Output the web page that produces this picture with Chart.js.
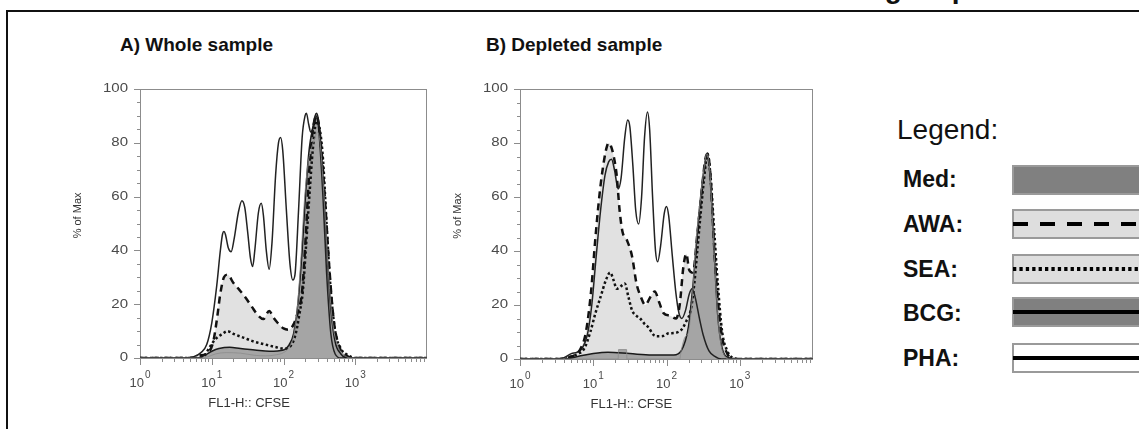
<!DOCTYPE html>
<html>
<head>
<meta charset="utf-8">
<script src="https://cdn.jsdelivr.net/npm/chart.js@4.4.1/dist/chart.umd.min.js"></script>
<style>
  html, body { margin: 0; padding: 0; background: #fff; }
  body { width: 1139px; height: 429px; position: relative; overflow: hidden; font-family: "Liberation Sans", Arial, sans-serif; color: #111; }
  .abs { position: absolute; white-space: nowrap; }
  canvas { position: absolute; }
  .lbl { font: bold 23px/23px "Liberation Sans", Arial, sans-serif; left: 903px; }
</style>
</head>
<body>
<div class="abs" style="left:737px;top:-25px;font:bold 28px/28px 'Liberation Sans',Arial,sans-serif;">Proliferating responses</div>
<div class="abs" style="left:6px;top:10px;width:1150px;height:440px;border-top:2px solid #111;border-left:2px solid #111;"></div>

<div class="abs" style="left:120px;top:35px;font:bold 19px/19px 'Liberation Sans',Arial,sans-serif;">A) Whole sample</div>
<div class="abs" style="left:486px;top:35px;font:bold 19px/19px 'Liberation Sans',Arial,sans-serif;">B) Depleted sample</div>

<canvas id="histA" width="380" height="350" style="left:60px;top:70px;"></canvas>
<canvas id="histB" width="380" height="350" style="left:440px;top:70px;"></canvas>

<div class="abs" style="left:897px;top:116px;font:28px/28px 'Liberation Sans',Arial,sans-serif;">Legend:</div>
<div class="abs lbl" style="top:168px;">Med:</div>
<div class="abs lbl" style="top:213px;">AWA:</div>
<div class="abs lbl" style="top:258px;">SEA:</div>
<div class="abs lbl" style="top:302px;">BCG:</div>
<div class="abs lbl" style="top:347px;">PHA:</div>
<canvas id="legendSwatches" width="139" height="240" style="left:1000px;top:150px;"></canvas>

<script>
// [log10 CFSE, % of Max]  -- A) whole sample
const medA = [[0,0],[0.85,0],[0.95,0.5],[1.05,1.5],[1.2,2],[1.4,1.8],[1.6,1],[1.75,0.8],[1.9,1.2],[2.0,2],[2.08,4],[2.14,8],[2.19,18],[2.24,36],[2.29,58],[2.34,72],[2.39,78],[2.44,82],[2.47,84],[2.51,80],[2.56,62],[2.62,34],[2.68,14],[2.75,5],[2.85,1],[2.95,0],[4,0]];
const bcgA = [[0,0],[0.8,0],[0.9,1],[1.0,2.5],[1.1,3.5],[1.25,4],[1.4,3.5],[1.6,3],[1.8,2.5],[2.0,3],[2.08,5],[2.14,9],[2.2,20],[2.26,40],[2.31,62],[2.36,78],[2.41,86],[2.44,90],[2.46,91],[2.49,88],[2.54,72],[2.6,42],[2.66,18],[2.72,6],[2.8,1.5],[2.9,0],[4,0]];
const awaA = [[0,0],[0.75,0],[0.85,1],[0.95,2],[1.02,6],[1.07,14],[1.12,24],[1.17,30],[1.22,31],[1.3,28],[1.38,25.5],[1.47,22.5],[1.56,19],[1.64,16],[1.72,14.5],[1.8,17.5],[1.86,15],[1.92,13],[2.0,11],[2.07,10.5],[2.14,12.5],[2.2,17],[2.26,25],[2.31,45],[2.36,70],[2.41,85],[2.46,90],[2.52,80],[2.58,58],[2.64,33],[2.7,14],[2.78,4],[2.88,0.8],[3.0,0],[4,0]];
const seaA = [[0,0],[0.8,0],[0.9,1],[0.97,4],[1.05,7],[1.15,9],[1.22,10],[1.3,9],[1.45,7.5],[1.6,6],[1.75,5],[1.9,4],[2.0,3.5],[2.1,4.5],[2.17,9],[2.22,16],[2.27,25],[2.31,40],[2.36,60],[2.41,78],[2.46,88],[2.5,86],[2.55,74],[2.6,50],[2.65,28],[2.72,10],[2.8,3.5],[2.9,1],[3.0,0],[4,0]];
const phaA = [[0,0],[0.6,0],[0.75,0.5],[0.85,2],[0.93,5],[1.0,13],[1.07,27],[1.12,40],[1.15,46],[1.17,47],[1.19,46],[1.23,41],[1.27,39.5],[1.31,44],[1.37,54],[1.42,58.5],[1.46,56],[1.5,47],[1.54,37],[1.57,34],[1.6,40],[1.65,54],[1.69,57.5],[1.72,53],[1.76,40],[1.8,33],[1.84,43],[1.89,68],[1.93,80],[1.96,82],[1.99,77],[2.04,55],[2.09,35],[2.13,29],[2.16,31],[2.21,55],[2.26,82],[2.3,90],[2.32,91],[2.35,87],[2.38,84],[2.42,86],[2.46,90],[2.5,82],[2.55,60],[2.6,32],[2.66,9],[2.72,1.5],[2.8,0],[4,0]];

// B) depleted sample
const medB = [[0,0],[1.34,0],[1.345,3.5],[1.455,3.5],[1.46,0],[2.18,0],[2.2,3],[2.25,8],[2.3,10],[2.35,22],[2.4,42],[2.45,56],[2.5,68],[2.55,76],[2.59,70],[2.64,45],[2.69,20],[2.74,6],[2.8,1],[2.85,0],[4,0]];
const bcgB = [[0,0],[0.6,0],[0.8,1],[1.0,2],[1.2,2.5],[1.5,2],[1.8,1.5],[2.1,1.5],[2.2,3],[2.3,12],[2.37,30],[2.43,50],[2.5,68],[2.54,75],[2.56,76],[2.6,66],[2.65,40],[2.7,16],[2.76,4],[2.85,0.5],[2.95,0],[4,0]];
const awaB = [[0,0],[0.55,0],[0.65,0.5],[0.75,1.5],[0.83,4],[0.9,10],[0.97,25],[1.03,45],[1.09,62],[1.15,74],[1.19,79],[1.21,80],[1.24,79],[1.28,75],[1.32,68],[1.36,55],[1.4,47],[1.46,44],[1.53,38],[1.59,28],[1.65,23],[1.71,20],[1.78,23],[1.84,25],[1.9,21],[1.96,17],[2.05,16],[2.13,15],[2.18,20],[2.23,34],[2.27,39],[2.31,33],[2.36,32],[2.42,46],[2.48,62],[2.53,74],[2.56,76],[2.6,68],[2.65,42],[2.7,22],[2.76,8],[2.83,2],[2.9,0],[4,0]];
const seaB = [[0,0],[0.6,0],[0.7,1],[0.8,2],[0.88,4],[0.96,10],[1.03,17],[1.1,23],[1.17,29],[1.23,32],[1.28,29],[1.32,26],[1.38,27],[1.43,28],[1.48,23],[1.53,18],[1.59,16],[1.64,15],[1.7,13],[1.76,11.5],[1.82,9],[1.87,8.4],[1.95,8.5],[2.03,9.5],[2.1,9.6],[2.16,10],[2.21,11],[2.27,14],[2.33,18],[2.38,28],[2.42,40],[2.47,55],[2.51,66],[2.56,76],[2.6,68],[2.65,48],[2.7,28],[2.76,10],[2.83,3],[2.9,0.5],[3,0],[4,0]];
const phaB = [[0,0],[0.5,0],[0.6,0.5],[0.7,2],[0.78,2.5],[0.85,4],[0.92,9],[0.98,20],[1.04,38],[1.1,55],[1.16,68],[1.21,73],[1.25,74],[1.29,70],[1.34,63],[1.38,67],[1.43,82],[1.47,88.5],[1.5,86],[1.54,72],[1.58,55],[1.62,50],[1.66,60],[1.7,82],[1.74,91.5],[1.77,85],[1.81,60],[1.85,40],[1.88,36],[1.92,42],[1.97,54],[2.0,56.5],[2.03,53],[2.08,38],[2.13,24],[2.17,17],[2.21,15],[2.26,18],[2.31,24],[2.35,26],[2.39,23],[2.45,15],[2.5,9],[2.58,3],[2.66,1],[2.75,0],[4,0]];

const yTickLabels = [0, 20, 40, 60, 80, 100];
const xDecades = [0, 1, 2, 3];
const xTitle = 'FL1-H:: CFSE';
const yTitle = '% of Max';

const toPts = pairs => pairs.map(([e, v]) => ({ x: Math.pow(10, e), y: v }));

// box, ticks and labels in the FlowJo look
const flowAxes = {
  id: 'flowAxes',
  beforeDatasetsDraw(chart) {
    const { ctx, chartArea: a, scales: { x, y } } = chart;
    ctx.save();
    ctx.strokeStyle = '#8c8c8c';
    ctx.lineWidth = 1;
    ctx.strokeRect(a.left + 0.5, a.top + 0.5, a.right - a.left - 1, a.bottom - a.top);
    ctx.beginPath();
    for (let e = 0; e < 4; e++) {
      for (let k = 1; k <= 9; k++) {
        const px = Math.round(x.getPixelForValue(k * Math.pow(10, e))) + 0.5;
        ctx.moveTo(px, a.bottom);
        ctx.lineTo(px, a.bottom + (k === 1 ? 7 : 4));
      }
    }
    for (let v = 0; v <= 100; v += 5) {
      const py = Math.round(y.getPixelForValue(v)) + 0.5;
      ctx.moveTo(a.left, py);
      ctx.lineTo(a.left - (v % 20 === 0 ? 6 : 3), py);
    }
    ctx.stroke();
    ctx.restore();
  },
  afterDraw(chart) {
    const { ctx, chartArea: a, scales: { x, y } } = chart;
    ctx.save();
    ctx.fillStyle = '#4a4a4a';
    // y labels
    ctx.font = '12.5px "Liberation Sans", Arial, sans-serif';
    ctx.textAlign = 'right';
    ctx.textBaseline = 'middle';
    yTickLabels.forEach(v => {
      ctx.save();
      ctx.translate(a.left - 12, y.getPixelForValue(v));
      ctx.scale(1.2, 1);
      ctx.fillText(String(v), 0, 0);
      ctx.restore();
    });
    // x labels 10^n
    ctx.textAlign = 'left';
    ctx.textBaseline = 'alphabetic';
    xDecades.forEach(e => {
      const px = x.getPixelForValue(Math.pow(10, e));
      ctx.font = '13px "Liberation Sans", Arial, sans-serif';
      const w1 = ctx.measureText('10').width;
      ctx.font = '10px "Liberation Sans", Arial, sans-serif';
      const w2 = ctx.measureText(String(e)).width;
      const start = px - (w1 + w2 + 1) / 2;
      ctx.font = '13px "Liberation Sans", Arial, sans-serif';
      ctx.fillText('10', start, a.bottom + 29);
      ctx.font = '10px "Liberation Sans", Arial, sans-serif';
      ctx.fillText(String(e), start + w1 + 1, a.bottom + 20);
    });
    // axis titles
    ctx.fillStyle = '#333';
    ctx.font = '13px "Liberation Sans", Arial, sans-serif';
    ctx.textAlign = 'center';
    ctx.fillText(xTitle, a.left + 0.38 * (a.right - a.left), a.bottom + 49);
    ctx.save();
    ctx.translate(a.left - 62, a.top + 0.47 * (a.bottom - a.top));
    ctx.rotate(-Math.PI / 2);
    ctx.font = '11px "Liberation Sans", Arial, sans-serif';
    ctx.textBaseline = 'middle';
    ctx.fillText(yTitle, 0, 0);
    ctx.restore();
    ctx.restore();
  }
};

const DARK = '#a5a5a5';
const LIGHT = '#e1e1e1';

function makeHist(canvasId, s, padRight, xHeight) {
  const ctx = document.getElementById(canvasId).getContext('2d');
  return new Chart(ctx, {
    type: 'line',
    data: {
      datasets: [
        { label: 'Med', data: toPts(s.med), borderColor: '#8c8c8c', borderWidth: 0.8, backgroundColor: DARK, fill: 'origin' },
        { label: 'BCG', data: toPts(s.bcg), borderColor: '#1a1a1a', borderWidth: 1.5, backgroundColor: DARK, fill: 'origin' },
        { label: 'AWA', data: toPts(s.awa), borderColor: '#111', borderWidth: 2.5, borderDash: [7, 5], backgroundColor: LIGHT, fill: 'origin' },
        { label: 'SEA', data: toPts(s.sea), borderColor: '#111', borderWidth: 2.5, borderDash: [2.5, 2.5], backgroundColor: LIGHT, fill: 'origin' },
        { label: 'PHA', data: toPts(s.pha), borderColor: '#222', borderWidth: 1.5, fill: false }
      ]
    },
    options: {
      responsive: false,
      animation: false,
      devicePixelRatio: 1,
      layout: { padding: { left: 0, top: 19, right: padRight, bottom: 0 } },
      plugins: {
        legend: { display: false },
        tooltip: { enabled: false },
        filler: { drawTime: 'beforeDatasetsDraw' }
      },
      elements: {
        point: { radius: 0 },
        line: { cubicInterpolationMode: 'monotone' }
      },
      scales: {
        x: {
          type: 'logarithmic', min: 1, max: 10000,
          ticks: { display: false },
          grid: { display: false, drawTicks: false },
          border: { display: false },
          afterFit: sc => { sc.height = xHeight; }
        },
        y: {
          min: 0, max: 100,
          ticks: { display: false, stepSize: 5 },
          grid: { display: false, drawTicks: false },
          border: { display: false },
          afterFit: sc => { sc.width = 80; }
        }
      }
    },
    plugins: [flowAxes]
  });
}

makeHist('histA', { med: medA, bcg: bcgA, awa: awaA, sea: seaA, pha: phaA }, 13, 62);
makeHist('histB', { med: medB, bcg: bcgB, awa: awaB, sea: seaB, pha: phaB }, 7, 61);

// legend swatches
(function () {
  const c = document.getElementById('legendSwatches').getContext('2d');
  const rows = [
    { top: 15, fill: '#808080', line: null },
    { top: 59, fill: '#dedede', line: 'dash' },
    { top: 104, fill: '#dedede', line: 'dot' },
    { top: 147, fill: '#808080', line: 'solid' },
    { top: 193, fill: '#ffffff', line: 'solid' }
  ];
  rows.forEach(r => {
    c.fillStyle = r.fill;
    c.fillRect(12, r.top, 140, 30);
    c.strokeStyle = '#9a9a9a';
    c.lineWidth = 2;
    c.strokeRect(13, r.top + 1, 140, 28);
    if (!r.line) return;
    c.strokeStyle = '#000';
    c.lineWidth = 4;
    c.setLineDash(r.line === 'dash' ? [15, 12] : r.line === 'dot' ? [3.3, 3.1] : []);
    c.beginPath();
    c.moveTo(13, r.top + 15);
    c.lineTo(160, r.top + 15);
    c.stroke();
    c.setLineDash([]);
  });
})();
</script>
</body>
</html>
